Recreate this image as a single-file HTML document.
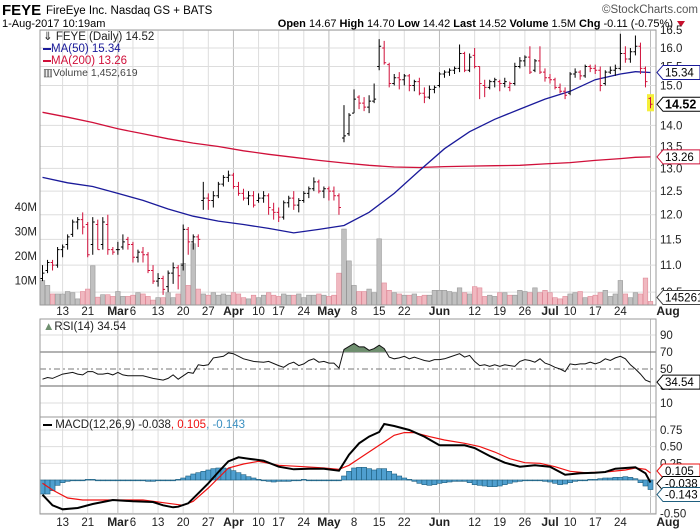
<!DOCTYPE html>
<html><head><meta charset="utf-8"><style>
html,body{margin:0;padding:0;background:#fff;}
svg{display:block;font-family:"Liberation Sans",sans-serif;}
</style></head><body>
<svg id="chart" width="700" height="530" viewBox="0 0 700 530" xmlns="http://www.w3.org/2000/svg">
<g>
<text x="2" y="15" font-size="15" font-weight="bold">FEYE</text>
<text x="46" y="14" font-size="11.5">FireEye Inc. Nasdaq GS + BATS</text>
<text x="698" y="13" font-size="11.5" fill="#555" text-anchor="end">©StockCharts.com</text>
<text x="2" y="27" font-size="11">1-Aug-2017 10:19am</text>
<text x="673" y="27" font-size="11" text-anchor="end"><tspan font-weight="bold">Open</tspan> 14.67 <tspan font-weight="bold">High</tspan> 14.70 <tspan font-weight="bold">Low</tspan> 14.42 <tspan font-weight="bold">Last</tspan> 14.52 <tspan font-weight="bold">Volume</tspan> 1.5M <tspan font-weight="bold">Chg</tspan> -0.11 (-0.75%)</text>
<path d="M677 21 L685 21 L681 27 Z" fill="#c8102e"/>
</g>
<g id="grid"></g>
<g id="marks"></g>
<g id="frames"></g>
<g id="labels"></g>
</svg>
<script>
// ---- data ----
const dateTicks = [4,9,15,18,23,28,33,38,43,47,52,57,62,67,72,79,86,91,96,101,105,110,115,121];
const dateLabels = ['13','21','Mar','6','13','20','27','Apr','10','17','24','May','8','15','22','Jun','12','19','26','Jul','10','17','24','Aug'];
const priceTicks = [10.5,11.0,11.5,12.0,12.5,13.0,13.5,14.0,15.0,15.5,16.0,16.5];
const volTicks = [10,20,30,40];
const opens = [10.75,10.9,11.05,11.0,11.3,11.4,11.6,11.85,11.9,11.8,11.4,11.8,11.4,11.8,11.3,
11.3,11.35,11.5,11.4,11.15,11.25,11.2,10.9,10.7,10.75,10.6,10.85,10.95,11.0,11.7,11.45,11.55,
12.3,12.35,12.3,12.4,12.65,12.8,12.85,12.6,12.45,12.35,12.4,12.3,12.35,12.4,12.1,12.05,11.95,12.25,12.35,12.2,12.3,12.45,12.55,12.7,12.5,12.55,12.5,12.4,
13.7,13.8,14.3,14.7,14.55,14.45,14.6,15.5,16.0,15.55,15.05,15.2,15.15,15.25,15.0,15.1,14.8,14.7,14.9,
15.0,15.3,15.35,15.4,15.45,15.85,15.4,15.8,15.5,15.0,14.95,15.1,15.1,15.05,14.95,15.05,15.5,15.65,15.75,15.4,15.65,15.35,
15.2,15.15,14.95,14.85,14.8,15.3,15.35,15.25,15.5,15.45,15.4,15.05,15.35,15.4,15.45,15.85,15.7,15.9,16.05,15.45,14.67];
const highs = [11.0,11.1,11.1,11.35,11.4,11.6,11.9,11.95,12.05,11.85,11.95,11.9,11.95,12.0,11.35,
11.45,11.6,11.55,11.45,11.3,11.35,11.25,11.0,10.85,10.8,10.9,11.05,11.0,11.8,11.75,11.6,11.6,
12.7,12.45,12.5,12.7,12.85,12.95,12.9,12.7,12.55,12.5,12.5,12.45,12.5,12.45,12.25,12.15,12.3,12.4,12.5,12.35,12.5,12.6,12.8,12.75,12.6,12.6,12.6,12.45,
14.5,14.3,14.9,14.75,14.7,14.75,15.05,16.25,16.2,15.6,15.3,15.35,15.3,15.3,15.15,15.2,14.95,15.0,15.0,
15.35,15.4,15.45,15.5,16.1,15.9,15.85,16.0,15.5,15.15,15.15,15.2,15.15,15.2,15.1,15.6,15.75,15.8,16.05,15.7,16.05,15.45,
15.3,15.2,15.05,14.95,15.35,15.45,15.4,15.55,15.55,15.55,15.5,15.4,15.5,15.55,16.4,16.05,16.0,16.35,16.15,15.5,14.70];
const lows = [10.7,10.85,10.9,10.95,11.15,11.3,11.55,11.7,11.6,11.15,11.2,11.3,11.3,11.2,11.2,
11.2,11.3,11.3,11.05,11.05,11.05,10.85,10.65,10.6,10.45,10.5,10.65,10.55,10.9,11.2,11.3,11.35,
12.1,12.1,12.15,12.35,12.6,12.7,12.55,12.4,12.3,12.2,12.15,12.25,12.25,12.0,11.9,11.85,11.9,12.15,12.1,12.05,12.25,12.35,12.5,12.45,12.35,12.3,12.3,12.0,
13.6,13.75,14.3,14.4,14.35,14.3,14.55,15.4,15.55,14.95,15.0,14.9,15.0,14.85,14.85,14.75,14.55,14.65,14.8,
14.95,15.2,15.25,15.3,15.35,15.35,15.35,15.45,14.65,14.7,14.9,14.95,14.85,14.95,14.85,15.0,15.45,15.5,15.3,15.35,15.3,15.1,
15.05,14.9,14.8,14.65,14.75,15.2,15.15,15.2,15.35,15.3,14.85,15.0,15.3,15.25,15.4,15.6,15.6,15.8,15.3,14.95,14.42];
const closes = [10.85,11.05,11.0,11.3,11.35,11.55,11.85,11.9,11.75,11.2,11.85,11.3,11.85,11.3,11.25,
11.3,11.45,11.4,11.15,11.25,11.2,10.9,10.7,10.75,10.55,10.85,10.95,10.8,11.7,11.45,11.55,11.5,
12.35,12.3,12.4,12.65,12.8,12.85,12.6,12.45,12.35,12.4,12.2,12.35,12.4,12.15,12.05,11.95,12.25,12.35,12.2,12.3,12.45,12.55,12.7,12.5,12.55,12.5,12.4,12.15,
13.75,14.25,14.65,14.55,14.45,14.6,14.65,16.05,15.6,15.05,15.2,15.15,15.25,15.0,15.1,14.8,14.7,14.9,14.95,
15.3,15.35,15.4,15.45,15.85,15.4,15.75,15.5,15.05,14.95,15.1,15.15,15.05,15.1,15.05,15.5,15.65,15.75,15.35,15.65,15.35,15.2,
15.15,14.95,14.85,14.75,15.3,15.35,15.25,15.5,15.45,15.4,15.0,15.35,15.4,15.45,15.85,15.7,15.9,16.05,15.45,15.1,14.52];
const volumes = [10,8,4.5,4.5,4.5,5.5,5,2.5,5.5,6.5,16,3.2,4.2,4.2,3.5,
5.5,3.5,3.5,4,5,4.5,3.5,2,3,3,5,3,4.5,17,8,25,6.5,
4.5,4,5,4,4.5,4,5,4.5,3,2.5,4,3,4,5,4,3.5,4.5,4,4,4.5,3,4,4,4.5,4,3.5,4,13,
31,18,8,5.5,5.5,6.5,5,27,9,6,5,4.5,4,4,4.5,3.5,4,4,6,
6,6,5.5,5,7,5,4.5,7.5,7,3.5,4,3.5,5,5,4,4,6,5.5,5,7,5,6,
5,3,2.5,3.5,4.5,5,5.5,3,3.5,4,5,6,3.5,4.5,10,4.5,3,5,4.5,11,1.45];
const maIdx = [0,5,10,15,20,25,30,35,40,45,50,55,60,65,70,75,80,85,90,95,100,105,110,115,118,121];
const ma50 = [12.8,12.68,12.6,12.45,12.3,12.12,11.97,11.87,11.8,11.72,11.63,11.7,11.78,12.05,12.45,12.95,13.45,13.85,14.15,14.4,14.65,14.85,15.15,15.3,15.36,15.34];
const ma200 = [14.32,14.2,14.07,13.92,13.8,13.68,13.58,13.5,13.4,13.32,13.25,13.18,13.12,13.07,13.03,13.02,13.04,13.05,13.06,13.07,13.1,13.13,13.18,13.22,13.25,13.26];
const rsiIdx = [0,1,2,4,6,7,8,9,10,11,12,13,14,15,16,17,18,20,22,24,25,26,27,28,29,30,31,32,33,34,35,36,37,38,40,42,44,45,47,48,49,50,51,52,53,54,55,56,57,58,59,60,62,63,64,65,66,67,68,69,70,71,72,73,74,75,76,77,78,79,80,81,83,84,85,86,87,88,89,90,91,92,93,94,95,96,97,98,99,100,101,102,103,104,105,106,107,108,109,110,111,112,113,114,115,116,117,118,119,120,121];
const rsiVals = [38,40,39,44,46,44,43,47,47,44,44,45,43,46,43,42,42,42,39,37,39,43,38,42,46,45,55,54,55,63,64,65,69,68,62,59,58,59,54,52,56,58,54,56,60,62,58,59,57,57,51,73,80,76,76,72,74,78,74,64,62,63,65,62,64,62,60,59,61,61,62,64,68,64,66,59,54,55,53,55,53,55,54,53,59,61,60,58,62,57,55,52,50,47,56,55,56,56,58,56,58,62,60,63,65,62,55,50,44,37,34.54];
const macdIdx = [0,2,4,7,10,12,14,18,22,24,26,27,29,31,33,35,37,39,41,44,47,50,53,56,59,61,63,65,67,68,70,73,76,79,82,84,86,89,92,95,98,101,104,107,110,112,114,116,118,120,121];
const macdVals = [-0.22,-0.38,-0.44,-0.42,-0.36,-0.33,-0.3,-0.32,-0.33,-0.38,-0.41,-0.4,-0.35,-0.2,-0.05,0.12,0.28,0.34,0.32,0.29,0.2,0.16,0.17,0.17,0.14,0.38,0.55,0.65,0.72,0.84,0.81,0.75,0.65,0.52,0.52,0.52,0.48,0.36,0.26,0.2,0.22,0.2,0.08,0.1,0.11,0.12,0.17,0.18,0.19,0.1,-0.038];
const sigIdx = [0,2,5,8,12,20,25,28,30,33,35,37,40,43,47,52,56,59,61,64,67,70,72,74,77,80,84,87,90,93,96,99,102,105,108,112,116,118,120,121];
const sigVals = [-0.05,-0.15,-0.27,-0.3,-0.3,-0.3,-0.35,-0.38,-0.32,-0.12,0.03,0.18,0.24,0.28,0.22,0.2,0.18,0.16,0.22,0.37,0.52,0.67,0.71,0.71,0.65,0.6,0.55,0.5,0.42,0.32,0.26,0.25,0.2,0.13,0.11,0.12,0.15,0.18,0.16,0.105];
const hist = [-0.21,-0.21,-0.16,-0.08,-0.04,
-0.02,-0.01,0,0,0.01,0.01,0,0,0,0,
0,0,0,0,-0.01,-0.01,-0.02,-0.02,-0.01,-0.01,0,0,0.01,
0.03,0.06,0.09,0.11,0.13,0.15,0.17,0.18,0.18,0.17,
0.14,0.11,0.08,0.05,0.03,0.01,-0.01,-0.02,-0.03,-0.02,
-0.02,-0.02,-0.01,0,0.01,0,0,0,0,0,0,-0.01,
0.06,0.13,0.18,0.19,0.19,0.17,0.15,0.17,0.17,0.13,
0.09,0.06,0.03,0.01,-0.02,-0.05,-0.07,-0.08,-0.07,-0.05,
-0.04,-0.03,-0.02,-0.02,-0.02,-0.04,-0.07,-0.08,-0.09,-0.1,
-0.1,-0.09,-0.07,-0.05,-0.03,-0.02,-0.01,0,0,-0.01,
-0.02,-0.03,-0.05,-0.07,-0.06,-0.04,-0.02,-0.01,0,0.01,
0.01,0.02,0.03,0.03,0.04,0.04,0.05,0.04,0.02,-0.04,-0.09,-0.143];
const rsiTicks = [10,30,50,70,90];
const macdTicks = [-0.5,-0.25,0.25,0.5,0.75];

// ---- layout ----
const L=40, R=656;
const P={top:30,bot:305}, RS={top:319,bot:417}, M={top:417,bot:514};
const NS='http://www.w3.org/2000/svg';
const N = closes.length;
const xs = i => 42.5 + i*(650.5-42.5)/(N-1);
const yp = p => 1654.5 - 579.4*Math.log(p);
const yv = v => P.bot - v*2.45;
const yr = v => 411.5 - 0.85*v;
const ym = v => 480 - 66.7*v;
function mk(tag, attrs, parent, text){
  const e=document.createElementNS(NS,tag);
  for(const k in attrs) e.setAttribute(k,attrs[k]);
  if(text!==undefined) e.textContent=text;
  document.getElementById(parent).appendChild(e);
  return e;
}
// grid
dateTicks.forEach((t,k)=>{
  const month = isNaN(+dateLabels[k]);
  [P,RS,M].forEach(pn=>{
    const g=mk('line',{x1:xs(t),x2:xs(t),y1:pn.top,y2:pn.bot,stroke:month?'#bbb':'#ddd','stroke-width':1},'grid');
    
    
  });
});
priceTicks.forEach(p=>{
  const g=mk('line',{x1:L,x2:R,y1:yp(p),y2:yp(p),stroke:'#ddd'},'grid');
  
  
  const t=mk('text',{x:660,y:yp(p)+4,'font-size':11.5,fill:'#222'},'labels',p.toFixed(1));
  
  
});
volTicks.forEach(v=>{
  const t=mk('text',{x:37,y:yv(v)+4,'font-size':11.5,'text-anchor':'end',fill:'#222'},'labels',v+'M');
  
  
});
rsiTicks.forEach(v=>{
  const strong = v===30||v===70;
  const g=mk('line',{x1:L,x2:R,y1:yr(v),y2:yr(v),stroke:strong?'#666':(v===50?'#777':'#ddd'),'stroke-dasharray':v===50?'6,3,2,3':'none'},'grid');
  
  
  const t=mk('text',{x:660,y:yr(v)+4,'font-size':11.5,fill:'#222'},'labels',String(v));
  
  
});
[-0.5,-0.25,0,0.25,0.5,0.75].forEach(v=>{
  const g=mk('line',{x1:L,x2:R,y1:ym(v),y2:ym(v),stroke:'#ddd'},'grid');
  
  
});
macdTicks.forEach(v=>{
  const t=mk('text',{x:660,y:ym(v)+4,'font-size':11.5,fill:'#222'},'labels',v.toFixed(2));
  
  
});
[315,526].forEach(yy=>{
  dateTicks.forEach((t,k)=>{
    const month = isNaN(+dateLabels[k]);
    let x=xs(t); if(dateLabels[k]==='Aug') x=668;
    const e=mk('text',{x:x,y:yy,'font-size':month?12:11.5,'font-weight':month?'bold':'normal','text-anchor':'middle',fill:'#222'},'labels',dateLabels[k]);
    
    
  });
});
// volume bars
const bw = 4.6;
volumes.forEach((v,i)=>{
  const up = i===0 || closes[i]>=closes[i-1];
  const b=mk('rect',{x:xs(i)-bw/2,y:yv(v),width:bw,height:P.bot-yv(v),fill:up?'#c0c0c0':'#f0b8c0',stroke:up?'#999':'#e08a98','stroke-width':0.6},'marks');
  
  
});
// moving averages
function poly(idx,vals,yf,color,w,name){
  const pts=idx.map((i,k)=>xs(i).toFixed(1)+','+yf(vals[k]).toFixed(1)).join(' ');
  const e=mk('polyline',{points:pts,fill:'none',stroke:color,'stroke-width':w},'marks');
  
  
  return e;
}
poly(maIdx,ma200,yp,'#d0103a',1.3,'ma200-line');
poly(maIdx,ma50,yp,'#1a1a9a',1.3,'ma50-line');
// last bar highlight
const last = N-1;
const hl=mk('rect',{x:xs(last)-3.5,y:yp(highs[last])-3,width:7,height:yp(lows[last])-yp(highs[last])+6,fill:'#f5ef3a'},'marks');


// price bars
closes.forEach((c,i)=>{
  const up = i===0 || c>=closes[i-1];
  const col = up?'#000':'#d0103a';
  const x=xs(i);
  const g=mk('g',{stroke:col,'stroke-width':1},'marks');
  
  
  const a=document.createElementNS(NS,'path');
  a.setAttribute('d',`M${x} ${yp(highs[i])}V${yp(lows[i])}M${x-2} ${yp(opens[i])}H${x}M${x} ${yp(c)}H${x+2}`);
  g.appendChild(a);
});
// RSI
const clip=mk('clipPath',{id:'ob'},'marks');
const cr=document.createElementNS(NS,'rect');
cr.setAttribute('x',L);cr.setAttribute('y',RS.top);cr.setAttribute('width',R-L);cr.setAttribute('height',yr(70)-RS.top);
clip.appendChild(cr);
const fillPts = rsiIdx.map((i,k)=>xs(i).toFixed(1)+','+yr(rsiVals[k]).toFixed(1)).join(' ')+` ${xs(last)},${yr(70)} ${xs(0)},${yr(70)}`;
const f=mk('polygon',{points:fillPts,fill:'#6f8f6f','clip-path':'url(#ob)'},'marks');


poly(rsiIdx,rsiVals,yr,'#111',1,'rsi-line');
// MACD histogram
hist.forEach((h,i)=>{
  const y0=ym(0), y1=ym(h);
  const b=mk('rect',{x:xs(i)-2.5,y:Math.min(y0,y1),width:5,height:Math.max(0.8,Math.abs(y1-y0)),fill:'#4f9fcf',stroke:'#1f5f7f','stroke-width':0.6},'marks');
  
  
});
poly(sigIdx,sigVals,ym,'#ee1111',1.2,'macd-signal-line');
poly(macdIdx,macdVals,ym,'#000',2,'macd-line');
// frames
[[P.top,P.bot],[RS.top,RS.bot],[M.top,M.bot]].forEach(([t,b])=>{
  const r=mk('rect',{x:L,y:t,width:R-L,height:b-t,fill:'none',stroke:'#999'},'frames');
  
  
});
// value tags
function tag(y,text,color,bold){
  const g=mk('g',{},'labels');
  
  
  const w=text.length*(bold?7.2:6.6)+4;
  const p=document.createElementNS(NS,'path');
  p.setAttribute('d',`M657 ${y} L663 ${y-7} H${663+w} V${y+7} H663 Z`);
  p.setAttribute('fill','#fff');p.setAttribute('stroke',color);
  g.appendChild(p);
  const t=document.createElementNS(NS,'text');
  t.setAttribute('x',665);t.setAttribute('y',y+4);t.setAttribute('font-size',bold?12.5:11.5);
  if(bold)t.setAttribute('font-weight','bold');
  t.setAttribute('fill','#000');
  t.textContent=text;g.appendChild(t);
}
tag(yp(ma50[ma50.length-1]),'15.34','#1a1a9a');
tag(yp(closes[last]),'14.52','#000',true);
tag(yp(ma200[ma200.length-1]),'13.26','#d0103a');
tag(yv(volumes[last])-4,'1452619','#444');
tag(yr(rsiVals[rsiVals.length-1]),'34.54','#000');
tag(ym(0.105)-2,'0.105','#ee1111');
tag(ym(-0.038)+1,'-0.038','#000');
tag(ym(-0.143)+5,'-0.143','#1f5f7f');
</script>
<div style="position:absolute;left:0;top:0;width:700px;height:530px;pointer-events:none;font-family:'Liberation Sans',sans-serif;">
<div style="position:absolute;left:43px;top:31px;font-size:11.5px;line-height:12px;color:#222;">
<div>⇓ FEYE (Daily) 14.52</div>
<div style="color:#1a1a9a;"><span style="display:inline-block;width:8px;height:2px;background:#1a1a9a;vertical-align:middle;"></span>MA(50) 15.34</div>
<div style="color:#d0103a;"><span style="display:inline-block;width:8px;height:2px;background:#d0103a;vertical-align:middle;"></span>MA(200) 13.26</div>
<div style="color:#444;font-size:10.5px;">▥Volume 1,452,619</div>
</div>
<div style="position:absolute;left:43px;top:321px;font-size:11.5px;color:#222;"><span style="color:#6f8f6f;">▲</span>RSI(14) 34.54</div>
<div style="position:absolute;left:43px;top:419px;font-size:11.5px;color:#222;"><span style="display:inline-block;width:9px;height:2px;background:#000;vertical-align:middle;"></span> MACD(12,26,9) -0.038<span style="color:#ee1111;">, 0.105</span><span style="color:#3a8fc0;">, -0.143</span></div>
</div>
</body></html>
